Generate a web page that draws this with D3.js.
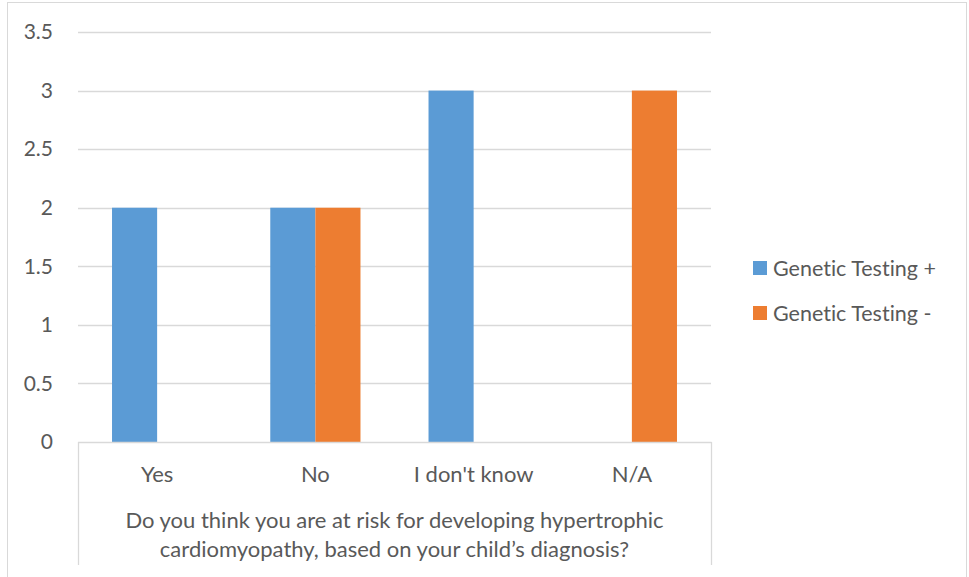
<!DOCTYPE html>
<html>
<head>
<meta charset="utf-8">
<script src="https://cdn.jsdelivr.net/npm/d3@7"></script>
<style>
  html, body { margin: 0; padding: 0; background: #fff; }
  svg { display: block; }
  text { font-family: "Lato", "Open Sans", sans-serif; fill: #595959; font-variant-ligatures: none; }
</style>
</head>
<body>
<script>
// Survey answers and counts per genetic-testing group
const categories = ["Yes", "No", "I don't know", "N/A"];
const seriesNames = ["Genetic Testing +", "Genetic Testing -"];
const positiveValues = [2, 2, 3, 0];
const negativeValues = [0, 2, 0, 3];
const yTicks = [0, 0.5, 1, 1.5, 2, 2.5, 3, 3.5];
const questionLines = [
  "Do you think you are at risk for developing hypertrophic",
  "cardiomyopathy, based on your child\u2019s diagnosis?"
];
const colors = ["#5b9bd5", "#ed7d31"];

const W = 969, H = 577;
const plot = { left: 78, right: 711, top: 32, bottom: 442 };
const fontFamily = "Lato, 'Open Sans', sans-serif";

const svg = d3.select("body").append("svg")
  .attr("width", W).attr("height", H);

// chart frame
svg.append("rect")
  .attr("x", 7.5).attr("y", 2.5)
  .attr("width", 959).attr("height", 590)
  .attr("fill", "#fff").attr("stroke", "#d9d9d9").attr("stroke-width", 1);

const y = d3.scaleLinear().domain([0, 3.5]).range([plot.bottom, plot.top]);
const x0 = d3.scaleBand().domain(categories)
  .range([plot.left, plot.right]).paddingInner(0.43).paddingOuter(0.215);
const x1 = d3.scaleBand().domain(seriesNames).range([0, x0.bandwidth()]);

// horizontal gridlines
svg.append("g").selectAll("line").data(yTicks.filter(t => t > 0)).join("line")
  .attr("x1", plot.left).attr("x2", plot.right)
  .attr("y1", d => Math.round(y(d)) + 0.5).attr("y2", d => Math.round(y(d)) + 0.5)
  .attr("stroke", "#d9d9d9").attr("stroke-width", 1.3);

// value axis labels
const yAxis = d3.axisLeft(y).tickValues(yTicks).tickSize(0).tickPadding(0)
  .tickFormat(d3.format(""));
const gy = svg.append("g").attr("transform", `translate(53,0)`).call(yAxis);
gy.select(".domain").remove();
gy.selectAll("text").style("font-size", "21px").attr("fill", "#595959")
  .attr("font-family", fontFamily);

// bars
const data = categories.map((c, i) => ({
  cat: c,
  vals: [
    { s: seriesNames[0], v: positiveValues[i], ci: 0 },
    { s: seriesNames[1], v: negativeValues[i], ci: 1 }
  ]
}));
const groups = svg.append("g").selectAll("g").data(data).join("g")
  .attr("transform", d => `translate(${x0(d.cat)},0)`);
groups.selectAll("rect").data(d => d.vals.filter(e => e.v > 0)).join("rect")
  .attr("x", d => x1(d.s))
  .attr("width", x1.bandwidth())
  .attr("y", d => y(d.v))
  .attr("height", d => y(0) - y(d.v))
  .attr("fill", d => colors[d.ci]);

// category axis with bracket lines
const axisColor = "#d9d9d9";
svg.append("line").attr("x1", plot.left).attr("x2", plot.right + 0.5)
  .attr("y1", plot.bottom + 0.5).attr("y2", plot.bottom + 0.5)
  .attr("stroke", axisColor).attr("stroke-width", 1.3);
[plot.left, plot.right].forEach(xx => {
  svg.append("line").attr("x1", xx + 0.5).attr("x2", xx + 0.5)
    .attr("y1", plot.bottom).attr("y2", 565)
    .attr("stroke", axisColor).attr("stroke-width", 1.3);
});

const xAxis = d3.axisBottom(x0).tickSize(0).tickPadding(0);
const gx = svg.append("g").attr("transform", `translate(0,${plot.bottom})`).call(xAxis);
gx.select(".domain").remove();
gx.selectAll("text").attr("dy", null).attr("y", 40)
  .style("font-size", "22px").attr("fill", "#595959")
  .attr("font-family", fontFamily);

// question text under the categories
const cx = (plot.left + plot.right) / 2;
svg.append("g").selectAll("text").data(questionLines).join("text")
  .attr("x", cx).attr("y", (d, i) => 528 + i * 29)
  .attr("text-anchor", "middle")
  .style("font-size", "22px")
  .text(d => d);

// legend
const legend = svg.append("g").selectAll("g").data(seriesNames).join("g")
  .attr("transform", (d, i) => `translate(753,${261 + i * 45})`);
legend.append("rect").attr("width", 14).attr("height", 14)
  .attr("fill", (d, i) => colors[i]);
legend.append("text").attr("x", 20).attr("y", 15)
  .style("font-size", "21.5px").text(d => d);
</script>
</body>
</html>
